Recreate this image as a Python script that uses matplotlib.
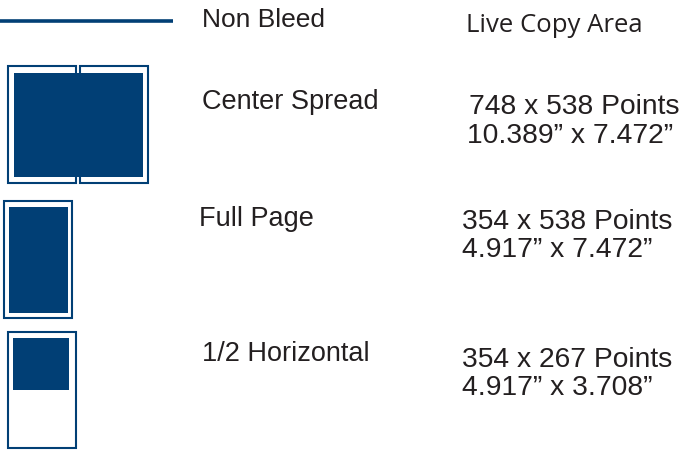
import matplotlib
matplotlib.use("Agg")
import matplotlib.pyplot as plt
from matplotlib.patches import Rectangle

# Data
ad_names = ["Center Spread", "Full Page", "1/2 Horizontal"]
points = ["748 x 538 Points", "354 x 538 Points", "354 x 267 Points"]
inches = ["10.389\u201d x 7.472\u201d", "4.917\u201d x 7.472\u201d", "4.917\u201d x 3.708\u201d"]
legend_label = "Non Bleed"
column_title = "Live Copy Area"

BLUE = "#013f75"
TXT = "#231f20"
FONT = "Liberation Sans"

fig = plt.figure(figsize=(6.88, 4.51), dpi=100)
ax = fig.add_axes([0, 0, 1, 1])
ax.set_xlim(0, 688)
ax.set_ylim(451, 0)
ax.axis("off")

# legend line
ax.plot([0, 173], [21, 21], color=BLUE, lw=2.6, solid_capstyle="butt")
ax.text(202, 20, legend_label, fontsize=19, family=FONT, color=TXT, va="center", ha="left")
ax.text(466, 26, column_title, fontsize=18.5, family="Open Sans", color=TXT, va="center", ha="left")

def outline(x0, y0, x1, y1):
    ax.add_patch(Rectangle((x0, y0), x1 - x0, y1 - y0, fill=False, ec=BLUE, lw=1.5))

def fill(x0, y0, x1, y1):
    ax.add_patch(Rectangle((x0, y0), x1 - x0, y1 - y0, fc=BLUE, ec="none"))

# Center spread
outline(8, 66, 76, 183)
outline(80, 66, 148, 183)
fill(14, 73, 143, 177)
# Full page
outline(4, 201, 72, 318)
fill(9, 207, 68, 313)
# Half horizontal
outline(8, 332, 76, 448)
fill(13, 338, 69, 390)

name_pos = [(202, 102), (199, 219), (202, 354)]
pts_pos = [(469, 107), (462, 222), (462, 360)]
inch_pos = [(467, 136), (462, 250), (462, 388)]

for name, p, i, npos, ppos, ipos in zip(ad_names, points, inches, name_pos, pts_pos, inch_pos):
    ax.text(npos[0], npos[1], name, fontsize=19.5, family=FONT, color=TXT, va="center", ha="left")
    ax.text(ppos[0], ppos[1], p, fontsize=20.3, family=FONT, color=TXT, va="center", ha="left")
    ax.text(ipos[0], ipos[1], i, fontsize=20.3, family=FONT, color=TXT, va="center", ha="left")

fig.savefig("out.png", dpi=100)
